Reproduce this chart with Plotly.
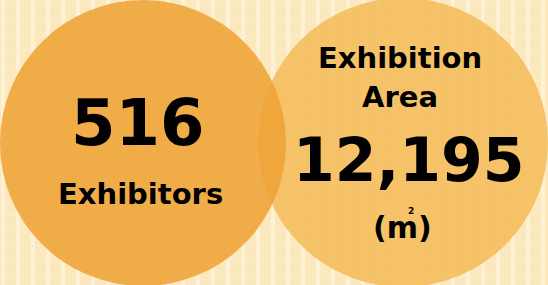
import plotly.graph_objects as go

# Data
labels_left = ["516", "Exhibitors"]
labels_right = ["Exhibition", "Area", "12,195", "(m)"]
unit_sup = "2"

W, H = 548, 285
FONT = "DejaVu Sans"

fig = go.Figure()

# circles (data coordinates)
circles = [
    (258, -2, 548, 287, "rgba(244,187,90,0.86)"),
    (0, 0, 286, 286, "rgba(238,163,55,0.88)"),
]
for x0, y0, x1, y1, col in circles:
    fig.add_shape(type="circle", xref="x", yref="y", x0=x0, y0=y0, x1=x1, y1=y1,
                  fillcolor=col, line=dict(width=0), layer="between")

def ann(text, x, y, size):
    fig.add_annotation(x=x, y=y, xref="x", yref="y", text=f"<b>{text}</b>",
                       showarrow=False, xanchor="center", yanchor="middle",
                       font=dict(family=FONT, size=size, color="#000000"))

ann(labels_left[0], 138, 123, 64)
ann(labels_left[1], 140, 194, 29)
ann(labels_right[0], 400, 58, 29)
ann(labels_right[1], 400, 97, 29)
ann(labels_right[2], 409, 160, 60)
ann(labels_right[3], 402, 227, 30)
fig.add_annotation(x=411, y=211, xref="x", yref="y", text=f"<b>{unit_sup}</b>",
                   showarrow=False, yanchor="middle",
                   font=dict(family=FONT, size=9, color="#000000"))

fig.update_xaxes(range=[0, W], visible=True, showgrid=True, dtick=15, tick0=3,
                 gridcolor="#FEF1D6", gridwidth=4, zeroline=False, showticklabels=False,
                 showline=False, ticks="", fixedrange=True)
fig.update_yaxes(range=[H, 0], visible=True, showgrid=True, dtick=15, tick0=5,
                 gridcolor="#FDEDCA", gridwidth=1, zeroline=False, showticklabels=False,
                 showline=False, ticks="", fixedrange=True)
fig.update_layout(width=W, height=H, margin=dict(l=0, r=0, t=0, b=0),
                  plot_bgcolor="#FCE8BD", paper_bgcolor="#FCE8BD", showlegend=False)

fig.write_html("out.html", config={"displayModeBar": False},
               post_script="document.body.style.margin='0';document.body.style.overflow='hidden';")
